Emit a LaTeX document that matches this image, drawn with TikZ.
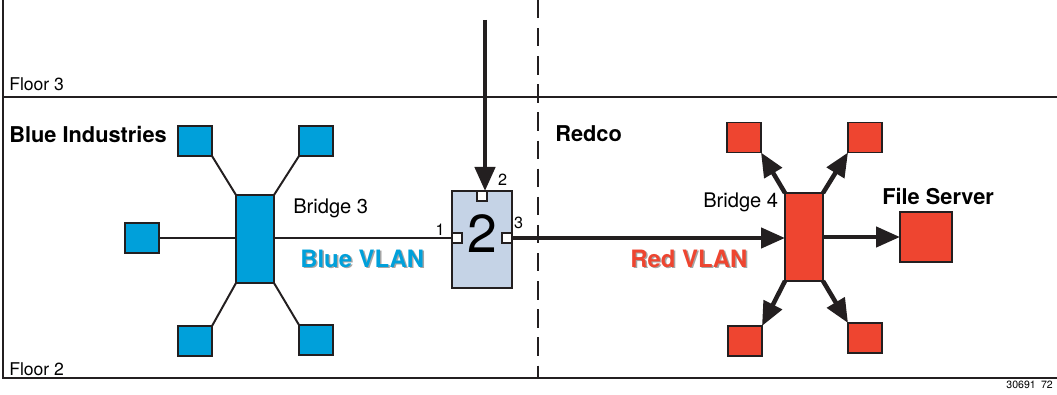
\documentclass[tikz,border=0pt]{standalone}
\usepackage{fontspec}
\setmainfont{TeX Gyre Heros}
\usetikzlibrary{arrows.meta}
\definecolor{ink}{RGB}{35,31,32}
\definecolor{bluelan}{RGB}{0,160,218}
\definecolor{redlan}{RGB}{238,69,48}
\definecolor{swfill}{RGB}{197,211,230}
\definecolor{shade}{RGB}{165,165,165}
\begin{document}
\begin{tikzpicture}[x=0.025cm,y=-0.025cm,
    box/.style={draw=ink,line width=1.4pt,inner sep=0pt,outer sep=0pt},
    host/.style={box,minimum width=0.85cm,minimum height=0.75cm},
    bridge/.style={box,minimum width=0.95cm,minimum height=2.2cm},
    port/.style={box,fill=white,line width=1.1pt,minimum size=0.25cm},
    portnum/.style={anchor=base,inner sep=0pt,font=\fontsize{11.5}{13}\selectfont},
    link/.style={draw=ink,line width=1.4pt},
    flow/.style={draw=ink,line width=3.2pt,-{Triangle[length=0.6cm,width=0.5cm]}},
    wall/.style={draw=ink,line width=1.8pt},
    lbl/.style={inner sep=0pt,font=\fontsize{14.3}{16}\selectfont},
    site/.style={inner sep=0pt,font=\bfseries\fontsize{15.5}{18}\selectfont},
    vlan/.style={inner sep=0pt,font=\bfseries\fontsize{17}{20}\selectfont}]
    \useasboundingbox (0,0) rectangle (1057,394);
    % floors
    \draw[wall] (3,0) -- (3,378) -- (1057,378);
    \draw[wall] (3,97) -- (1057,97);
    \draw[draw=ink,line width=1.4pt,dash pattern=on 13pt off 7pt] (538,0) -- (538,378);
    \node[lbl,anchor=base west,font=\fontsize{12.5}{14}\selectfont] (fl3) at (9,91) {Floor 3};
    \node[lbl,anchor=base west,font=\fontsize{12.5}{14}\selectfont] (fl2) at (9,375) {Floor 2};
    \node[anchor=base east,inner sep=0pt,font=\fontsize{7.5}{9}\selectfont] (fig) at (1053,388) {30691\enspace72};
    % Blue Industries side
    \node[site,anchor=base west] (blueco) at (9,142) {Blue Industries};
    \node[bridge,fill=bluelan] (br3) at (255,239) {};
    \node[host,fill=bluelan] (bh1) at (195,141) {};
    \node[host,fill=bluelan] (bh2) at (316,141) {};
    \node[host,fill=bluelan] (bh3) at (142,238) {};
    \node[host,fill=bluelan] (bh4) at (195,341) {};
    \node[host,fill=bluelan] (bh5) at (316,340) {};
    \draw[link] (bh1.south east) -- (br3.north west);
    \draw[link] (bh2.south west) -- (br3.north east);
    \draw[link] (bh3.east) -- (br3.west |- bh3.east);
    \draw[link] (bh4.north east) -- (br3.south west);
    \draw[link] (bh5.north west) -- (br3.south east);
    \node[lbl,anchor=base west] (br3lbl) at (293,213) {Bridge 3};
    \node[vlan,anchor=base west,text=shade] at (301.5,268.5) {Blue VLAN};
    \node[vlan,anchor=base west,text=bluelan] (bluelbl) at (300,267) {Blue VLAN};
    % switch 2 with its ports
    \node[box,fill=swfill,minimum width=1.5cm,minimum height=2.425cm] (sw) at (482,239.5) {};
    \node[anchor=base,inner sep=0pt,font=\fontsize{38}{40}\selectfont] (swnum) at (482,252) {2};
    \node[port,anchor=west] (p1) at (sw.west |- 0,238) {};
    \node[port,anchor=north] (p2) at (sw.north) {};
    \node[port,anchor=east] (p3) at (sw.east |- 0,238) {};
    \node[portnum] (p1lbl) at (440,235) {1};
    \node[portnum] (p2lbl) at (502.5,185) {2};
    \node[portnum] (p3lbl) at (518.5,228) {3};
    \draw[link] (br3.east |- p1.west) -- (p1.west);
    \coordinate (uplink) at (485,20);
    \draw[flow] (uplink) -- (uplink |- p2.north);
    % Redco side
    \node[site,anchor=base west] (redco) at (555,141) {Redco};
    \node[bridge,fill=redlan] (br4) at (804,237) {};
    \node[host,fill=redlan] (rh1) at (744,137.5) {};
    \node[host,fill=redlan] (rh2) at (865,137.5) {};
    \node[host,fill=redlan] (rh3) at (745,341) {};
    \node[host,fill=redlan] (rh4) at (865,338) {};
    \node[box,fill=redlan,minimum width=1.3cm,minimum height=1.25cm] (fs) at (926,237) {};
    \draw[flow] (p3.east) -- (br4.west |- p3.east);
    \draw[flow] (br4.north west) -- (rh1.south east);
    \draw[flow] (br4.north east) -- (rh2.south west);
    \draw[flow] (br4.south west) -- (rh3.north east);
    \draw[flow] (br4.south east) -- (rh4.north west);
    \draw[flow] (br4.east) -- (fs.west);
    \node[lbl,anchor=base west] (br4lbl) at (703,207) {Bridge 4};
    \node[site,anchor=base west] (fslbl) at (882,204) {File Server};
    \node[vlan,anchor=base west,text=shade] at (631.5,268.5) {Red VLAN};
    \node[vlan,anchor=base west,text=redlan] (redlbl) at (630,267) {Red VLAN};
\end{tikzpicture}
\end{document}
